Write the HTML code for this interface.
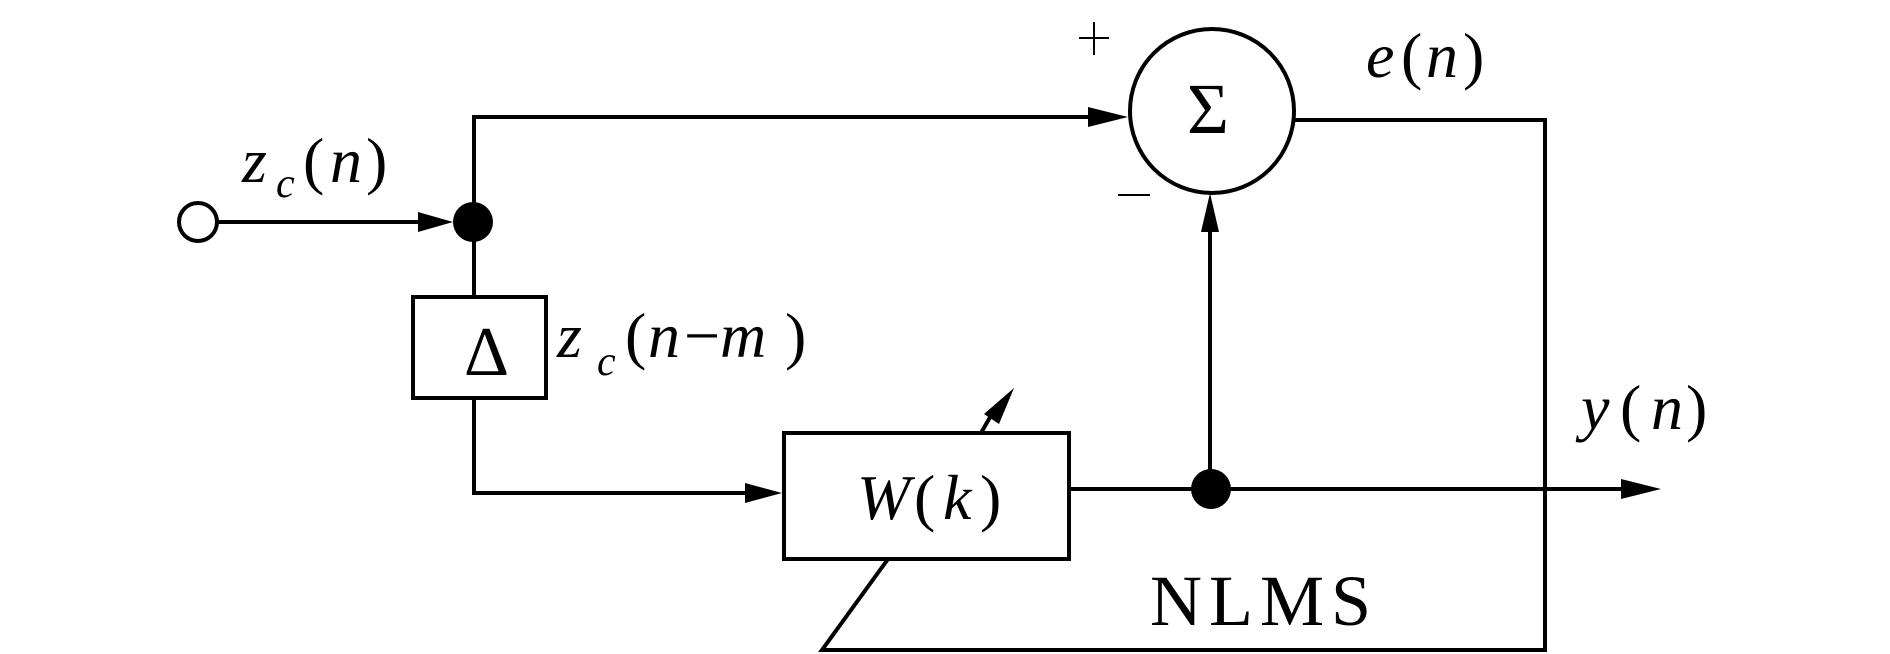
<!DOCTYPE html>
<html><head><meta charset="utf-8"><style>
html,body{margin:0;padding:0;background:#fff;}
svg{display:block;}
text{font-family:"Liberation Serif",serif;fill:#000;}
.i{font-style:italic;}
</style></head><body>
<svg width="1890" height="654" viewBox="0 0 1890 654" xmlns="http://www.w3.org/2000/svg">
<g fill="none" stroke="#000" stroke-width="4">
  <circle cx="198" cy="222" r="19"/>
  <line x1="217" y1="222" x2="420" y2="222"/>
  <polyline points="474,222 474,117 1095,117"/>
  <line x1="474" y1="222" x2="474" y2="297"/>
  <rect x="413" y="297" width="133" height="101"/>
  <polyline points="474,398 474,493 745,493"/>
  <rect x="784" y="433" width="285" height="126"/>
  <circle cx="1212" cy="111" r="82"/>
  <polyline points="1295,120 1545,120 1545,650 822,650 888,559"/>
  <line x1="1069" y1="489" x2="1625" y2="489"/>
  <line x1="1210" y1="489" x2="1210" y2="232"/>
  <line x1="981" y1="433" x2="993" y2="412"/>
</g>
<g fill="#000" stroke="none">
  <circle cx="473" cy="222" r="20"/>
  <circle cx="1211" cy="489" r="20"/>
  <polygon points="418,212 453,222 418,232"/>
  <polygon points="1088,107 1128,117 1088,127"/>
  <polygon points="745,483 782,493 745,503"/>
  <polygon points="1621,479 1661,489 1621,499"/>
  <polygon points="1201,232 1210,193 1219,232"/>
  <polygon points="984,414 1014,388 999,424"/>
</g>
<g stroke="#000" stroke-width="2">
  <line x1="1079" y1="38" x2="1109" y2="38"/>
  <line x1="1094" y1="22" x2="1094" y2="55"/>
  <line x1="1118" y1="195" x2="1150" y2="195"/>
</g>
<!-- z_c(n) -->
<text class="i" x="242" y="182" font-size="64">z</text>
<text class="i" x="276" y="197" font-size="42">c</text>
<text x="303" y="182" font-size="64">(</text>
<text class="i" x="330" y="182" font-size="64">n</text>
<text x="366" y="182" font-size="64">)</text>
<!-- Delta -->
<text x="464" y="375" font-size="70">Δ</text>
<!-- z_c(n-m) -->
<text class="i" x="557" y="357" font-size="64">z</text>
<text class="i" x="597" y="375" font-size="42">c</text>
<text x="625" y="357" font-size="64">(</text>
<text class="i" x="648" y="357" font-size="64">n</text>
<text x="684" y="357" font-size="64">−</text>
<text class="i" x="720" y="357" font-size="64">m</text>
<text x="785" y="357" font-size="64">)</text>
<!-- W(k) -->
<text class="i" x="857" y="519" font-size="64">W</text>
<text x="914" y="519" font-size="64">(</text>
<text class="i" x="943" y="519" font-size="64">k</text>
<text x="980" y="519" font-size="64">)</text>
<!-- Sigma -->
<text x="1187" y="133" font-size="72">Σ</text>
<!-- e(n) -->
<text class="i" x="1366" y="77" font-size="64">e</text>
<text x="1401" y="77" font-size="64">(</text>
<text class="i" x="1426" y="77" font-size="64">n</text>
<text x="1463" y="77" font-size="64">)</text>
<!-- y(n) -->
<text class="i" x="1581" y="429" font-size="64">y</text>
<text x="1620" y="429" font-size="64">(</text>
<text class="i" x="1651" y="429" font-size="64">n</text>
<text x="1686" y="429" font-size="64">)</text>
<!-- NLMS -->
<text x="1150" y="625" font-size="72" letter-spacing="7">NLMS</text>
</svg>
</body></html>
